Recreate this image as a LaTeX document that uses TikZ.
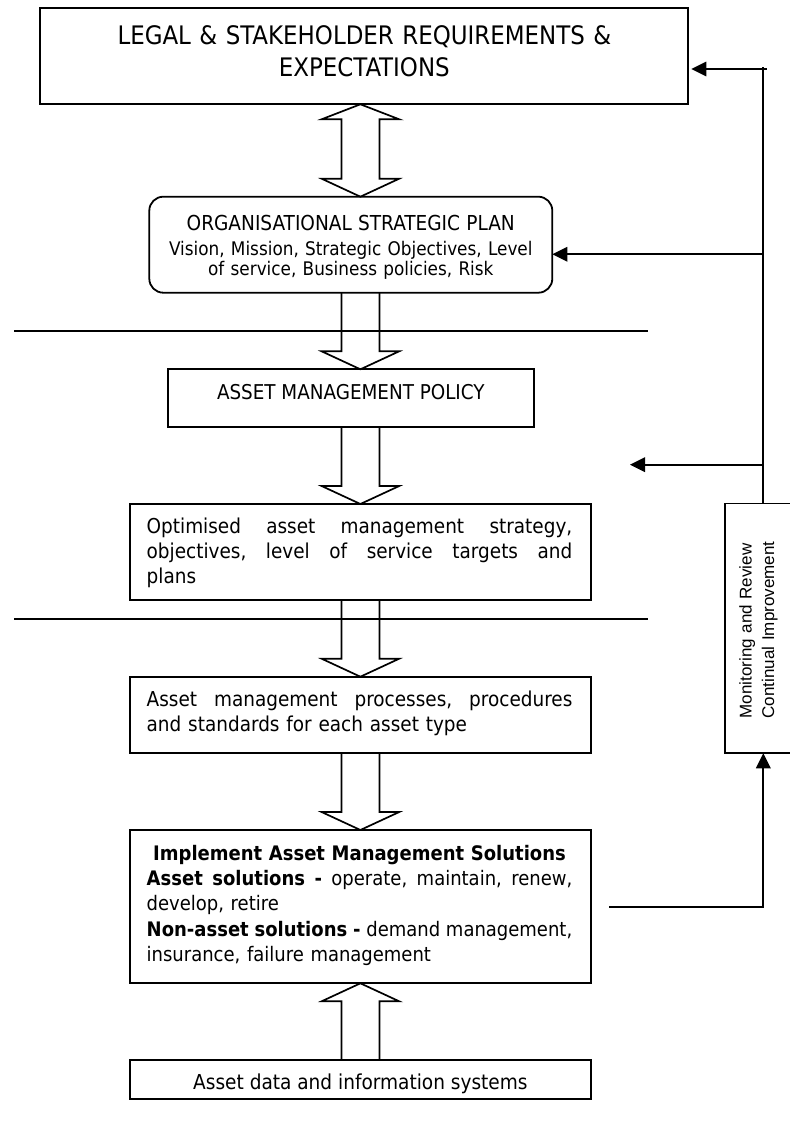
\documentclass[tikz,border=0pt]{standalone}
\usepackage{fontspec}
\setmainfont{DejaVu Sans Condensed}[BoldFont={DejaVu Sans Condensed Bold}]
\newfontfamily\monfont{Liberation Sans}
\usetikzlibrary{arrows.meta,calc}
\newcommand\jline[1]{\leavevmode\hbox to \linewidth{\frenchspacing\spaceskip=0.27em plus 1fil minus 0.05em\relax #1}}
\newcommand\blkdown[2]{%
  \draw[blk] let \p1=(#1.south -| ax), \p2=(#2.north -| ax) in
    (\x1-19pt,\y1) -- (\x1-19pt,\y2+18pt) -- (\x1-38.8pt,\y2+18pt) -- (\x2,\y2)
    -- (\x1+38.8pt,\y2+18pt) -- (\x1+19pt,\y2+18pt) -- (\x1+19pt,\y1);}
\newcommand\blkup[2]{%
  \draw[blk] let \p1=(#1.north -| ax), \p2=(#2.south -| ax) in
    (\x1-19pt,\y1) -- (\x1-19pt,\y2-18pt) -- (\x1-38.8pt,\y2-18pt) -- (\x2,\y2)
    -- (\x1+38.8pt,\y2-18pt) -- (\x1+19pt,\y2-18pt) -- (\x1+19pt,\y1);}
\begin{document}
\begin{tikzpicture}[x=1pt,y=-1pt,
  box/.style={draw, line width=2pt, inner sep=0pt, outer sep=0pt},
  rbox/.style={draw, line width=1.8pt, rounded corners=14pt, inner sep=0pt, outer sep=0pt},
  txt/.style={inner sep=0pt, outer sep=0pt},
  blk/.style={line width=1.7pt, line join=miter},
  sepline/.style={line width=2pt},
  ln/.style={line width=1.7pt},
  fb/.style={line width=1.7pt, -{Triangle[length=15pt,width=14.5pt]}}]
\useasboundingbox (0,0) rectangle (789,1134);

\coordinate (ax) at (360.4,0);

% boxes
\node[box, minimum width=648.1pt, minimum height=96pt] (legal) at (364.35,56.3) {};
\node[rbox, minimum width=403pt, minimum height=96pt] (osp) at (350.8,244.7) {};
\node[box, minimum width=366.3pt, minimum height=58pt] (amp) at (350.85,398.3) {};
\node[box, minimum width=461.3pt, minimum height=96pt] (strat) at (360.35,552) {};
\node[box, minimum width=461.3pt, minimum height=76.6pt] (proc) at (360.35,715) {};
\node[box, minimum width=461.3pt, minimum height=153.3pt] (impl) at (360.35,906.65) {};
\node[box, minimum width=461.3pt, minimum height=39.3pt] (data) at (360.35,1079.65) {};
\node[box, line width=1.8pt, minimum width=76.6pt, minimum height=249.9pt] (mon) at (763.3,628.35) {};

% texts
\node[txt, anchor=base, text width=648pt, align=center,
      font=\fontsize{25.5}{31.7}\selectfont] (legalt) at (364.4,45)
  {LEGAL \& STAKEHOLDER REQUIREMENTS \&\\EXPECTATIONS};
\node[txt, anchor=base, text width=403pt, align=center,
      font=\fontsize{18.75}{20}\selectfont] (ospt) at (350.8,230.7)
  {{\fontsize{20.6}{20}\selectfont ORGANISATIONAL STRATEGIC PLAN}\\[4.3pt]
   Vision, Mission, Strategic Objectives, Level\\
   of service, Business policies, Risk};
\node[txt, anchor=base, font=\fontsize{20.4}{25}\selectfont] (ampt) at (350.85,399)
  {ASSET MANAGEMENT POLICY};
\node[txt, anchor=base west, text width=425.6pt, align=left,
      font=\fontsize{20.5}{25}\selectfont] (stratt) at (146.7,533.3)
  {\jline{Optimised asset management strategy,}\\
   \jline{objectives, level of service targets and}\\
   plans};
\node[txt, anchor=base west, text width=425.6pt, align=left,
      font=\fontsize{20.5}{24.4}\selectfont] (proct) at (146.7,706.7)
  {\jline{Asset management processes, procedures}\\
   and standards for each asset type};
\node[txt, anchor=base west, text width=425.6pt, align=left,
      font=\fontsize{20}{25.4}\selectfont] (implt) at (146.7,860)
  {\makebox[\linewidth][c]{\bfseries Implement Asset Management Solutions}\\
   \jline{\textbf{Asset solutions -} operate, maintain, renew,}\\
   develop, retire\\
   \jline{\textbf{Non-asset solutions -} demand management,}\\
   insurance, failure management};
\node[txt, anchor=base, font=\fontsize{20.6}{25}\selectfont] (datat) at (360.4,1089.3)
  {Asset data and information systems};
\node[txt, rotate=90, anchor=base west, text width=200pt, align=left,
      font=\monfont\fontsize{17}{22.3}\selectfont] (mont) at (751.7,718.3)
  {Monitoring and Review\\Continual Improvement};

% separator lines
\draw[sepline] (14,330.7) -- (648.4,330.7);
\draw[sepline] (14,619.3) -- (648.4,619.3);

% double block arrow
\draw[blk] let \p1=(legal.south -| ax), \p2=(osp.north -| ax) in
  (\x1,\y1) -- (\x1+38.8pt,\y1-15pt) -- (\x1+19pt,\y1-15pt) -- (\x1+19pt,\y2+18pt)
  -- (\x1+38.8pt,\y2+18pt) -- (\x2,\y2) -- (\x1-38.8pt,\y2+18pt) -- (\x1-19pt,\y2+18pt)
  -- (\x1-19pt,\y1-15pt) -- (\x1-38.8pt,\y1-15pt) -- cycle;

% block arrows
\blkdown{osp}{amp}
\blkdown{amp}{strat}
\blkdown{strat}{proc}
\blkdown{proc}{impl}
\blkup{data}{impl}

% feedback loop
\coordinate (ltop) at (763.3,66.7);
\coordinate (e1) at (767,69);
\coordinate (e2) at (763.3,254.3);
\coordinate (e3) at (763.3,464.7);
\coordinate (e3t) at (630,464.7);
\coordinate (e4) at (609.3,907);
\draw[ln] (mon.north) -- (ltop);
\draw[fb, shorten >=3pt] (e1) -- (legal.east |- e1);
\draw[fb] (e2) -- (osp.east |- e2);
\draw[fb] (e3) -- (e3t);
\draw[fb] (e4) -- (e4 -| mon.south) -- (mon.south);
\end{tikzpicture}
\end{document}
